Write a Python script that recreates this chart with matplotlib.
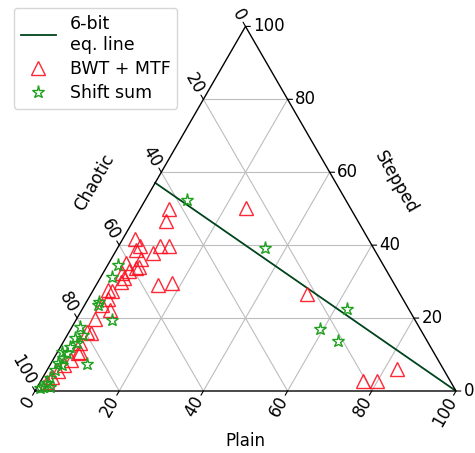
"""Ternary composition plot of block classes (Plain / Stepped / Chaotic)."""
import numpy as np
import matplotlib.pyplot as plt

# Percentages per block; Chaotic = 100 - Plain - Stepped
bwt_plain = [6.9, 7.8, 24.9, 2.9, 4.9, 4.7, 9.8, 11.8, 9.1, 7.1, 4.1, 7.1, 7.7,
             4.4, 5.4, 14.6, 17.9, 3.6, 4.7, 4.7, 6.7, 4.0, 4.4, 4.2, 5.3, 4.0,
             5.3, 5.1, 4.4, 3.3, 2.8, 2.1, 1.6, 76.5, 79.8, 83.0, 51.3, 5.6, 6.0]
bwt_stepped = [49.9, 46.6, 50.3, 41.7, 39.9, 38.8, 39.8, 39.9, 37.9, 36.3, 35.0,
               33.7, 34.0, 32.5, 30.0, 29.2, 29.5, 27.7, 27.4, 25.1, 22.2, 23.6,
               19.8, 16.3, 16.0, 13.2, 10.8, 10.3, 8.5, 7.1, 5.4, 3.8, 2.5, 2.7,
               2.7, 5.9, 26.6, 31.0, 32.8]

shift_plain = [9.8, 35.0, 62.9, 59.3, 65.2, 2.4, 2.6, 3.0, 3.2, 8.5, 8.6, 1.9,
               3.8, 2.3, 3.4, 2.2, 2.4, 0.9, 2.2, 1.7, 2.8, 1.9, 1.8, 1.7, 1.4,
               0.9, 3.0]
shift_stepped = [52.4, 39.1, 22.6, 17.0, 13.7, 34.6, 31.4, 24.4, 23.6, 19.5, 7.3,
                 17.6, 15.4, 14.5, 13.1, 12.2, 10.3, 10.8, 9.0, 7.6, 7.1, 5.8,
                 3.5, 2.1, 1.2, 0.7, 1.2]

# 6-bit equality line, end points
eq_plain = [0, 100]
eq_stepped = [57.1, 0]

ticks = [0, 20, 40, 60, 80, 100]
H = np.sqrt(3) / 2


def to_xy(plain, stepped):
    plain = np.asarray(plain, dtype=float)
    stepped = np.asarray(stepped, dtype=float)
    return plain + stepped / 2, stepped * H


fig = plt.figure(figsize=(4.75, 4.53), dpi=100)
ax = fig.add_axes([35 / 475, 62 / 453, 421 / 475, 364.6 / 453])
ax.set_xlim(0, 100)
ax.set_ylim(0, 100 * H)
ax.axis("off")

grid_kw = dict(color="#bdbdbd", lw=0.8, zorder=1)
for v in ticks[1:-1]:
    # constant Stepped (horizontal)
    x, y = to_xy([0, 100 - v], [v, v])
    ax.plot(x, y, **grid_kw)
    # constant Plain
    x, y = to_xy([v, v], [0, 100 - v])
    ax.plot(x, y, **grid_kw)
    # constant Chaotic
    x, y = to_xy([0, 100 - v], [100 - v, 0])
    ax.plot(x, y, **grid_kw)

# triangle frame
x, y = to_xy([0, 100, 0, 0], [0, 0, 100, 0])
ax.plot(x, y, color="black", lw=1.0, zorder=3, clip_on=False)

fs = 12
tick_len = 3.5  # points
pad = 5.5
tick_arrow = dict(arrowstyle="-", lw=0.8, color="black", shrinkA=0, shrinkB=0)
for v in ticks:
    # Plain along the bottom
    px, py = to_xy(v, 0)
    d = np.array([-0.5, -H])
    ax.annotate("", xy=(px, py), xytext=tuple(d * tick_len), textcoords="offset points",
                arrowprops=tick_arrow)
    ax.annotate(str(v), xy=(px, py), xytext=tuple(d * pad), textcoords="offset points",
                rotation=60, rotation_mode="anchor", ha="right", va="center", fontsize=fs)
    # Stepped along the right edge
    px, py = to_xy(100 - v, v)
    d = np.array([1.0, 0.0])
    ax.annotate("", xy=(px, py), xytext=tuple(d * tick_len), textcoords="offset points",
                arrowprops=tick_arrow)
    ax.annotate(str(v), xy=(px, py), xytext=tuple(d * pad), textcoords="offset points",
                ha="left", va="center", fontsize=fs)
    # Chaotic along the left edge
    px, py = to_xy(0, 100 - v)
    d = np.array([-0.5, H])
    ax.annotate("", xy=(px, py), xytext=tuple(d * tick_len), textcoords="offset points",
                arrowprops=tick_arrow)
    ax.annotate(str(v), xy=(px, py), xytext=tuple(d * pad), textcoords="offset points",
                rotation=-60, rotation_mode="anchor", ha="right", va="center", fontsize=fs)

# axis titles
ax.annotate("Plain", xy=to_xy(50, 0), xytext=(0, -36), textcoords="offset points",
            ha="center", va="center", fontsize=fs)
ax.annotate("Chaotic", xy=to_xy(0, 50), xytext=(-38 * H, 38 * 0.5), textcoords="offset points",
            rotation=60, ha="center", va="center", fontsize=fs)
ax.annotate("Stepped", xy=to_xy(50, 50), xytext=(37.5 * H, 37.5 * 0.5), textcoords="offset points",
            rotation=-60, ha="center", va="center", fontsize=fs)

x, y = to_xy(eq_plain, eq_stepped)
ax.plot(x, y, color="#00441b", lw=1.3, zorder=2, label="6-bit\neq. line")

x, y = to_xy(bwt_plain, bwt_stepped)
ax.plot(x, y, ls="none", marker="^", ms=9.5, mfc="none", mec="#ff1020", mew=1.0,
        alpha=0.9, zorder=4, clip_on=False, label="BWT + MTF")

x, y = to_xy(shift_plain, shift_stepped)
ax.plot(x, y, ls="none", marker="*", ms=9.5, mfc="none", mec="#1fa01f", mew=1.0,
        zorder=5, clip_on=False, label="Shift sum")

fig.legend(loc="upper left", bbox_to_anchor=(14 / 475, 1 - 8 / 453), borderaxespad=0,
           fontsize=12.5, labelspacing=0.35, numpoints=1)

fig.savefig("out.png", dpi=100)
